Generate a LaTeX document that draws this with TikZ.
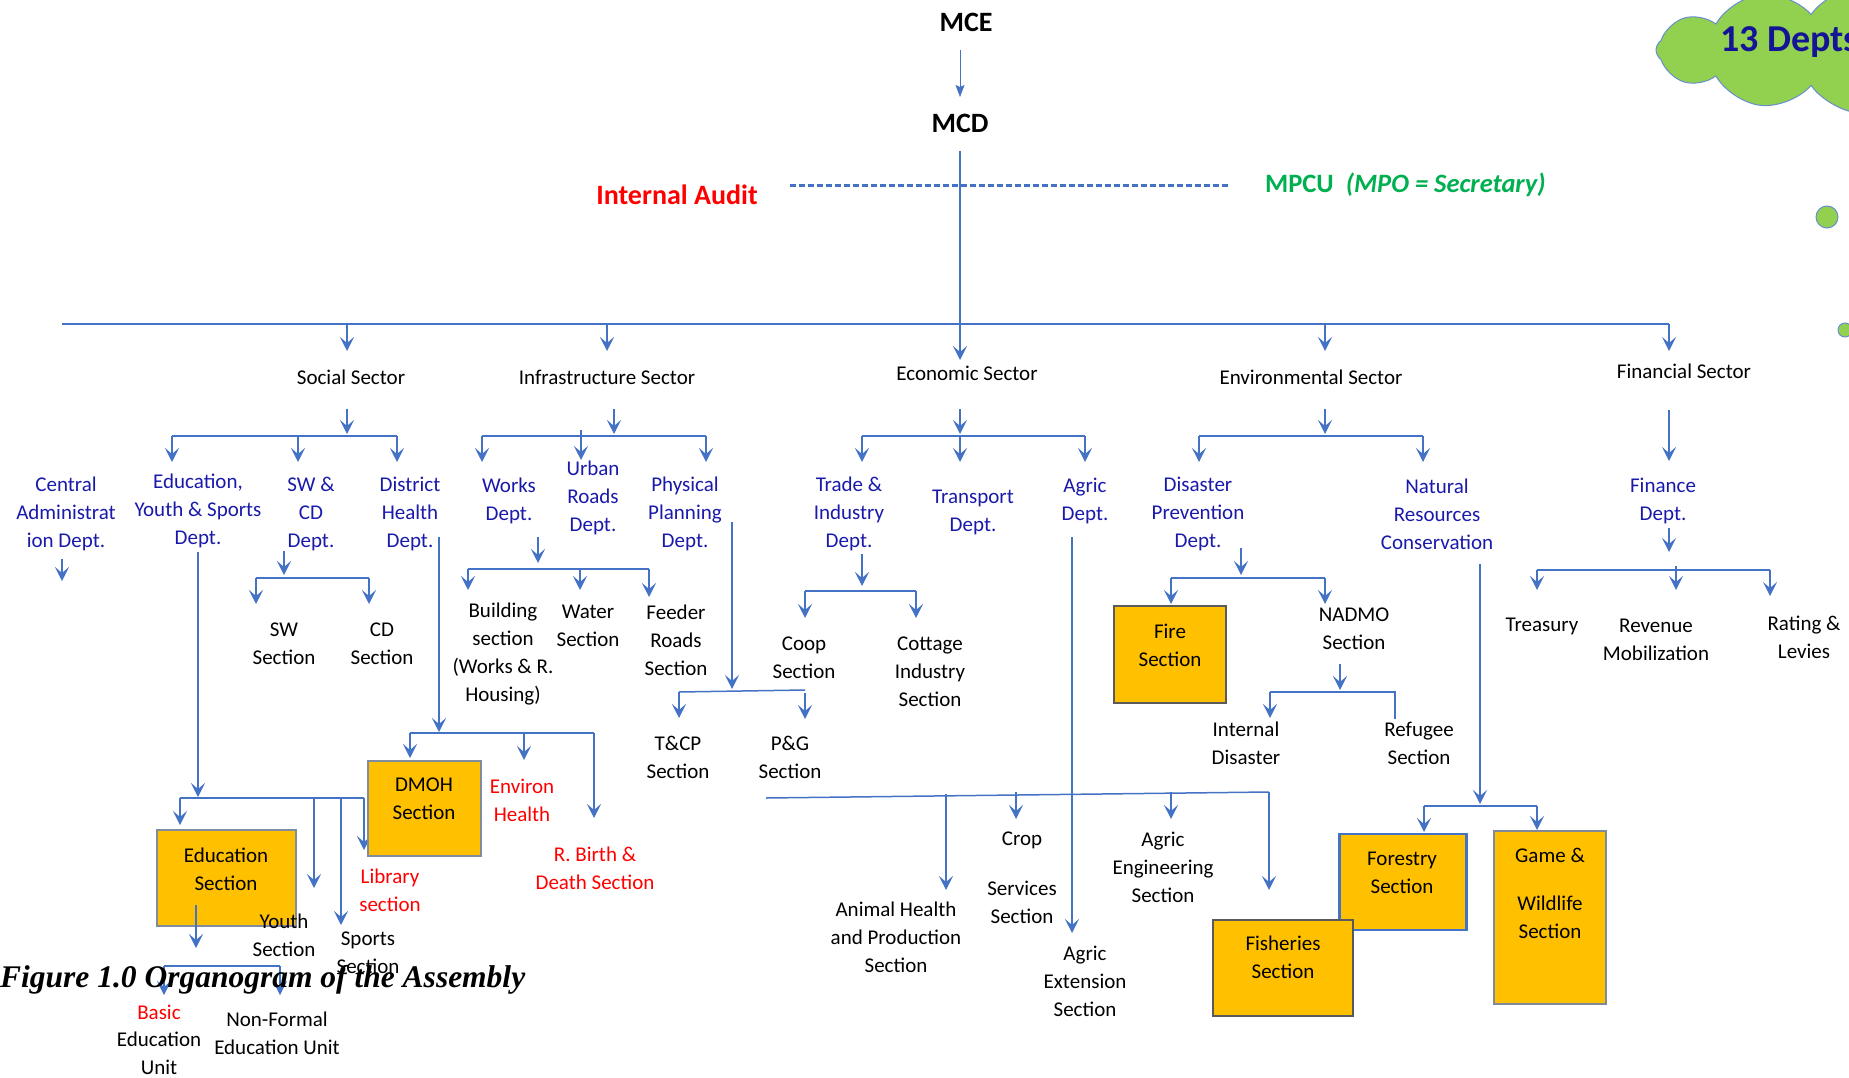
\documentclass[tikz,border=0pt]{standalone}
\usepackage{fontspec}
\setmainfont{Carlito}
\newfontfamily\capfont{Liberation Serif}
\usetikzlibrary{arrows.meta,shapes.symbols}
\definecolor{lblue}{HTML}{4472C4}
\definecolor{dblue}{RGB}{25,25,170}
\definecolor{nblue}{RGB}{20,20,150}
\definecolor{dred}{HTML}{FF0000}
\definecolor{dgreen}{HTML}{00B050}
\definecolor{orng}{HTML}{FFC000}
\definecolor{cloudg}{HTML}{92D050}
\definecolor{gbord}{RGB}{128,140,160}
\definecolor{dbord}{RGB}{90,90,90}
\tikzset{
 arr/.style={draw=lblue, line width=1.5pt, -{Stealth[length=14pt,width=14pt,inset=6pt]}},
 ln/.style={draw=lblue, line width=1.5pt},
 lbl/.style={font=\fontsize{21}{28}\selectfont, align=center, text=black, inner sep=0pt},
 dept/.style={lbl, text=dblue},
 redl/.style={lbl, text=dred},
 obox/.style={fill=orng, draw=#1, line width=2.2pt, inner sep=0pt},
}
\begin{document}
\begin{tikzpicture}[x=1pt,y=-1pt]
\useasboundingbox (0,0) rectangle (1849,1078);

% cloud and bubbles
\begin{scope}
\clip (0,0) rectangle (1849,1078);
\node[cloud, cloud puffs=12, cloud puff arc=110, cloud ignores aspect, draw=lblue!80, fill=cloudg, line width=1pt, minimum width=420, minimum height=128] (cloud) at (1866,50) {};
\node[anchor=west, font=\bfseries\fontsize{38}{40}\selectfont, text=nblue, inner sep=0pt] (depts) at (1720,42) {13 Depts};
\node[circle, fill=cloudg, draw=lblue!80, line width=1pt, minimum size=22, inner sep=0pt] (b1) at (1827,217) {};
\node[circle, fill=cloudg, draw=lblue!80, line width=1pt, minimum size=14, inner sep=0pt] (b2) at (1845,330) {};
\end{scope}

% top
\node[font=\bfseries\fontsize{28}{30}\selectfont, inner sep=0pt] (mce) at (966,22) {MCE};
\node[font=\bfseries\fontsize{28}{30}\selectfont, inner sep=0pt] (mcd) at (960,123) {MCD};
\node[font=\bfseries\fontsize{28}{30}\selectfont, text=dred, inner sep=0pt] (audit) at (677,195) {Internal Audit};
\node[anchor=west, font=\bfseries\fontsize{26.5}{28}\selectfont, text=dgreen, inner sep=0pt] (mpcu) at (1265,185) {MPCU\ \ \textit{(MPO = Secretary)}};

\draw[draw=lblue, line width=1pt, -{Stealth[length=12pt,width=9pt,inset=2pt]}] (960,50) -- (960,97);
\draw[draw=lblue, line width=3pt, dash pattern=on 6pt off 3pt] (790,186) -- (1229,186);
\draw[draw=lblue, line width=1.2pt, -{Stealth[length=14pt,width=14pt,inset=6pt]}] (960,151) -- (960,360);

% trunk
\draw[ln] (62,324) -- (1669,324);
\foreach \x in {347,607,1325,1669} \draw[arr] (\x,324) -- (\x,351);

% sectors
\node[lbl] (soc) at (351,377) {Social Sector};
\node[lbl] (inf) at (607,377) {Infrastructure Sector};
\node[lbl] (eco) at (967,373) {Economic Sector};
\node[lbl] (env) at (1311,377) {Environmental Sector};
\node[lbl] (fin) at (1684,371) {Financial Sector};

% sector brackets
\draw[arr] (347,409) -- (347,434);
\draw[ln] (172,436) -- (397,436);
\foreach \x in {172,298,397} \draw[arr] (\x,436) -- (\x,462);
\draw[arr] (614,409) -- (614,434);
\draw[ln] (482,436) -- (706,436);
\foreach \x in {482,706} \draw[arr] (\x,436) -- (\x,462);
\draw[arr] (581,430) -- (581,460);
\draw[arr] (960,409) -- (960,434);
\draw[ln] (862,436) -- (1085,436);
\foreach \x in {862,960,1085} \draw[arr] (\x,436) -- (\x,462);
\draw[arr] (1325,409) -- (1325,434);
\draw[ln] (1199,436) -- (1423,436);
\foreach \x in {1199,1423} \draw[arr] (\x,436) -- (\x,462);
\draw[arr] (1669,410) -- (1669,461);

% departments
\node[dept] (cad) at (66,514) {Central\\Administrat\\ion Dept.};
\node[dept] (eys) at (198,511) {Education,\\Youth \& Sports\\Dept.};
\node[dept] (swcd) at (311,514) {SW \&\\CD\\Dept.};
\node[dept] (dhd) at (410,514) {District\\Health\\Dept.};
\node[dept] (wd) at (509,501) {Works\\Dept.};
\node[dept] (urd) at (593,498) {Urban\\Roads\\Dept.};
\node[dept] (ppd) at (685,514) {Physical\\Planning\\Dept.};
\node[dept] (tid) at (849,514) {Trade \&\\Industry\\Dept.};
\node[dept] (trd) at (973,512) {Transport\\Dept.};
\node[dept] (agd) at (1085,501) {Agric\\Dept.};
\node[dept] (dpd) at (1198,514) {Disaster\\Prevention\\Dept.};
\node[dept] (nrc) at (1437,514) {Natural\\Resources\\Conservation};
\node[dept] (fid) at (1663,501) {Finance\\Dept.};

% central admin
\draw[arr] (62,559) -- (62,581);

% SW & CD
\draw[arr] (284,551) -- (284,575);
\draw[ln] (256,578) -- (369,578);
\foreach \x in {256,369} \draw[arr] (\x,578) -- (\x,604);
\node[lbl] (sws) at (284,644) {SW\\Section};
\node[lbl] (cds) at (382,644) {CD\\Section};

% Education subtree
\draw[arr] (198,552) -- (198,797);
\draw[ln] (180,798) -- (364,798);
\draw[arr] (180,798) -- (180,825);
\draw[arr] (314,798) -- (314,888);
\draw[arr] (341,798) -- (341,925);
\draw[arr] (364,798) -- (364,850);
\node[obox=gbord, minimum width=139, minimum height=96] (edubox) at (226.5,878) {};
\node[lbl] (edu) at (226,869) {Education\\Section};
\draw[arr] (196,905) -- (196,948);
\draw[ln] (164,966) -- (280,966);
\foreach \x in {164,280} \draw[arr] (\x,966) -- (\x,995);
\node[lbl] (youth) at (284,935) {Youth\\Section};
\node[lbl] (sports) at (368,953) {Sports\\Section};
\node[redl] (lib) at (390,890) {Library\\section};
\node[redl] (basic) at (159,1012) {Basic};
\node[lbl] (basic2) at (159,1053) {Education\\Unit};
\node[lbl] (nonf) at (277,1033) {Non-Formal\\Education Unit};

% District health
\draw[arr] (439,537) -- (439,732);
\draw[ln] (410,733) -- (594,733);
\draw[arr] (410,733) -- (410,758);
\draw[arr] (524,733) -- (524,760);
\draw[arr] (594,733) -- (594,818);
\node[obox=gbord, minimum width=113, minimum height=95] (dmohbox) at (424.5,808.5) {};
\node[lbl] (dmoh) at (424,799) {DMOH\\Section};
\node[redl] (envh) at (522,800) {Environ\\Health};
\node[redl] (rbd) at (595,868) {R. Birth \&\\Death Section};

% Works
\draw[arr] (538,537) -- (538,563);
\draw[ln] (468,569) -- (649,569);
\draw[arr] (468,569) -- (468,590);
\draw[arr] (580,569) -- (580,590);
\draw[arr] (649,569) -- (649,597);
\node[lbl] (bld) at (503,654) {Building\\section\\(Works \& R.\\Housing)};
\node[lbl] (wat) at (588,626) {Water\\Section};
\node[lbl] (fdr) at (676,640) {Feeder\\Roads\\Section};

% Physical planning
\draw[arr] (732,522) -- (732,689);
\draw[ln] (679,692) -- (805,690);
\draw[arr] (679,692) -- (679,718);
\draw[arr] (805,693) -- (805,719);
\node[lbl] (tcp) at (678,757) {T\&CP\\Section};
\node[lbl] (pg) at (790,757) {P\&G\\Section};

% Trade
\draw[arr] (862,554) -- (862,586);
\draw[ln] (805,591) -- (916,591);
\foreach \x in {805,916} \draw[arr] (\x,591) -- (\x,618);
\node[lbl] (coop) at (804,658) {Coop\\Section};
\node[lbl] (cot) at (930,672) {Cottage\\Industry\\Section};

% Agric
\draw[arr] (1072,537) -- (1072,933);
\draw[ln] (766,798) -- (1269,792);
\draw[arr] (1269,792) -- (1269,890);
\draw[arr] (946,794) -- (946,890);
\draw[arr] (1016,792) -- (1016,819);
\draw[arr] (1171,792) -- (1171,819);
\node[lbl] (ahp) at (896,937) {Animal Health\\and Production\\Section};
\node[lbl] (crop) at (1022,840) {Crop};
\node[lbl] (crops) at (1022,902) {Services\\Section};
\node[lbl] (aeng) at (1163,867) {Agric\\Engineering\\Section};
\node[lbl] (aext) at (1085,981) {Agric\\Extension\\Section};

% Disaster
\draw[arr] (1241,548) -- (1241,575);
\draw[ln] (1171,578) -- (1325,578);
\foreach \x in {1171,1325} \draw[arr] (\x,578) -- (\x,604);
\node[obox=dbord, minimum width=112, minimum height=97] (firebox) at (1170,654.5) {};
\node[lbl] (fire) at (1170,645) {Fire\\Section};
\node[lbl] (nadmo) at (1354,629) {NADMO\\Section};
\draw[arr] (1340,664) -- (1340,690);
\draw[ln] (1270,692) -- (1395,692) -- (1395,719);
\draw[arr] (1270,692) -- (1270,718);
\node[lbl] (intd) at (1246,743) {Internal\\Disaster};
\node[lbl] (ref) at (1419,743) {Refugee\\Section};

% Natural resources
\draw[arr] (1480,564) -- (1480,804);
\draw[ln] (1424,806) -- (1537,806);
\draw[arr] (1424,806) -- (1424,832);
\draw[arr] (1537,806) -- (1537,830);
\node[obox=lblue, minimum width=127, minimum height=96] (forbox) at (1403,882) {};
\node[lbl] (for) at (1402,873) {Forestry\\Section};
\node[obox=dbord, minimum width=140, minimum height=96] (fishbox) at (1283,968) {};
\node[lbl] (fish) at (1283,957) {Fisheries\\Section};
\node[obox=gbord!80!gray, minimum width=112, minimum height=173] (gamebox) at (1550,917.5) {};
\node[lbl] (game) at (1550,855) {Game \&};
\node[lbl] (wild) at (1550,917) {Wildlife\\Section};

% Finance
\draw[arr] (1669,528) -- (1669,552);
\draw[ln] (1537,570) -- (1770,570);
\draw[arr] (1537,570) -- (1537,590);
\draw[arr] (1676,566) -- (1676,590);
\draw[arr] (1770,570) -- (1770,596);
\node[lbl] (tre) at (1542,626) {Treasury};
\node[lbl] (rev) at (1656,640) {Revenue\\Mobilization};
\node[lbl] (rat) at (1804,637) {Rating \&\\Levies};

% caption
\node[anchor=west, inner sep=0pt, font=\capfont\bfseries\itshape\fontsize{31.5}{34}\selectfont] (cap) at (0,980) {Figure 1.0 Organogram of the Assembly};
\end{tikzpicture}
\end{document}
